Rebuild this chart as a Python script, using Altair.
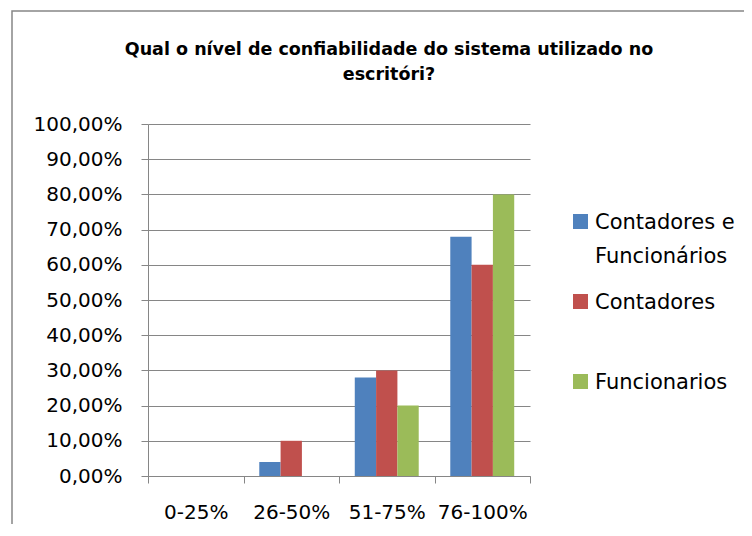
import altair as alt
import pandas as pd

CATEGORIES = ["0-25%", "26-50%", "51-75%", "76-100%"]
SERIES = ["Contadores e Funcionários", "Contadores", "Funcionarios"]
CONT_FUNC = [0.0, 0.04, 0.28, 0.68]
CONTADORES = [0.0, 0.10, 0.30, 0.60]
FUNCIONARIOS = [0.0, 0.0, 0.20, 0.80]
Y_TICKS = [0.0, 0.1, 0.2, 0.3, 0.4, 0.5, 0.6, 0.7, 0.8, 0.9, 1.0]
TITLE_LINES = ["Qual o nível de confiabilidade do sistema utilizado no", "escritóri?"]
LEGEND_LABELS = ["Contadores e\nFuncionários", "Contadores", "Funcionarios"]
COLORS = ["#4F81BD", "#C0504D", "#9BBB59"]

FONT = "DejaVu Sans"
GREY = "#868686"

rows = []
for s, vals in zip(SERIES, [CONT_FUNC, CONTADORES, FUNCIONARIOS]):
    for c, v in zip(CATEGORIES, vals):
        rows.append({"categoria": c, "serie": s, "valor": v})
df = pd.DataFrame(rows)

legend_df = pd.DataFrame({"serie": SERIES, "label": LEGEND_LABELS})

color_scale = alt.Scale(domain=SERIES, range=COLORS)

bars = alt.Chart(df).mark_bar().encode(
    x=alt.X("categoria:N", sort=CATEGORIES,
            scale=alt.Scale(paddingInner=0, paddingOuter=0),
            axis=alt.Axis(title=None, labelAngle=0, tickBand="extent", grid=False,
                          labelFont=FONT, labelFontSize=20, labelColor="black",
                          labelBaseline="alphabetic", labelPadding=35,
                          tickSize=7, tickColor=GREY, domainColor=GREY)),
    xOffset=alt.XOffset("serie:N", sort=SERIES,
                        scale=alt.Scale(paddingInner=0, paddingOuter=0.74)),
    y=alt.Y("valor:Q", scale=alt.Scale(domain=[0, 1]),
            axis=alt.Axis(title=None, values=Y_TICKS,
                          labelExpr="replace(format(datum.value, '.2%'), '.', ',')",
                          grid=True, gridColor=GREY, domainColor=GREY,
                          tickColor=GREY, tickSize=7, labelPadding=19,
                          labelFont=FONT, labelFontSize=20, labelColor="black")),
    color=alt.Color("serie:N", scale=color_scale, legend=None),
)

legend_y = alt.Y("serie:N", sort=SERIES,
                 scale=alt.Scale(type="point", range=[97.5, 257.5], padding=0),
                 axis=None)

legend_squares = alt.Chart(legend_df).mark_square(size=225, opacity=1).encode(
    x=alt.value(432.5),
    y=legend_y,
    color=alt.Color("serie:N", scale=color_scale, legend=None),
)

legend_text = alt.Chart(legend_df).transform_calculate(
    lines="split(datum.label, '\\n')"
).mark_text(align="left", baseline="alphabetic", font=FONT, fontSize=21,
            lineHeight=34, dy=7, color="black").encode(
    x=alt.value(447),
    y=legend_y,
    text="lines:N",
)

title = alt.Chart(alt.Data(values=[{}])).mark_text(
    text=TITLE_LINES, align="center", baseline="alphabetic", font=FONT,
    fontSize=17.5, fontWeight="bold", lineHeight=25, color="black"
).encode(x=alt.value(241), y=alt.value(-69))

border = alt.Chart(alt.Data(values=[{}])).mark_rect(
    fill=None, stroke=GREY, strokeWidth=1.5
).encode(x=alt.value(-136), x2=alt.value(700), y=alt.value(-113), y2=alt.value(500))

chart = alt.layer(border, title, bars, legend_squares, legend_text).resolve_scale(
    y="independent"
).properties(
    width=382, height=352,
    padding={"left": 140, "top": 116, "right": 214, "bottom": 48},
    autosize=alt.AutoSizeParams(type="none"),
).configure_view(stroke=None)

chart.save("out.html", embed_options={"renderer": "svg", "actions": False})
